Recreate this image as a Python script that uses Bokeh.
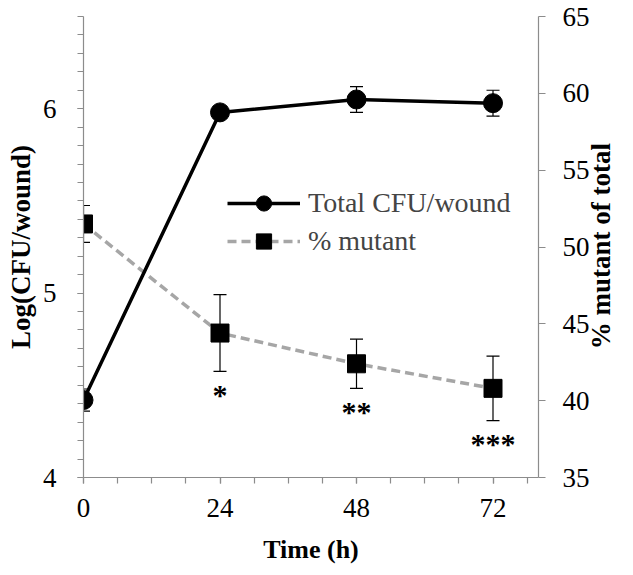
import math
from bokeh.plotting import figure
from bokeh.models import (Range1d, LinearAxis, FixedTicker, ColumnDataSource, Whisker,
                          TeeHead, Legend, LegendItem)
from bokeh.core.properties import value
from bokeh.embed import file_html
from bokeh.resources import INLINE

# ---- data ----
time_h = [0, 24, 48, 72]
total_cfu = [4.42, 5.98, 6.05, 6.03]
total_err = [0.06, 0.03, 0.07, 0.07]
pct_mutant = [51.5, 44.4, 42.4, 40.8]
pct_err = [1.2, 2.5, 1.6, 2.1]
sig_labels = ["", "*", "**", "***"]

x_major_ticks = [0, 24, 48, 72]
x_minor_ticks = [0, 6, 12, 18, 24, 30, 36, 42, 48, 54, 60, 66, 72, 78]
left_major_ticks = [4, 5, 6]
left_minor_ticks = [round(4 + 0.1 * i, 1) for i in range(26)]
right_ticks = [35, 40, 45, 50, 55, 60, 65]

FONT = "Liberation Serif"
AX = "#8c8c8c"
W, H = 633, 575
MB_L, MB_R, MB_T, MB_B = 83, 90, 16, 98

p = figure(width=W, height=H, output_backend="svg", toolbar_location=None,
           x_range=Range1d(0, 80), y_range=Range1d(4, 6.5),
           min_border_left=MB_L, min_border_right=MB_R,
           min_border_top=MB_T, min_border_bottom=MB_B)
p.extra_y_ranges = {"pct": Range1d(35, 65)}
p.grid.visible = False
p.outline_line_color = None
p.background_fill_color = "white"
p.border_fill_color = "white"

def style_axis(ax, size="27px"):
    ax.axis_line_color = AX
    ax.axis_line_width = 1.2
    ax.major_tick_line_color = AX
    ax.minor_tick_line_color = AX
    ax.major_tick_line_width = 1.2
    ax.minor_tick_line_width = 1.2
    ax.major_tick_in = 0
    ax.minor_tick_in = 0
    ax.major_label_text_font = FONT
    ax.major_label_text_font_size = size
    ax.major_label_text_color = "black"
    ax.axis_label_text_font = FONT
    ax.axis_label_text_font_style = "bold"
    ax.axis_label_text_color = "black"

xa = p.xaxis[0]
style_axis(xa)
xa.ticker = FixedTicker(ticks=x_major_ticks, minor_ticks=x_minor_ticks)
xa.major_tick_out = 6
xa.minor_tick_out = 6
xa.major_label_standoff = 15
xa.axis_label = "Time (h)"
xa.axis_label_text_font_size = "26px"
xa.axis_label_standoff = 15

ya = p.yaxis[0]
style_axis(ya)
ya.ticker = FixedTicker(ticks=left_major_ticks, minor_ticks=left_minor_ticks)
ya.major_tick_out = 6
ya.minor_tick_out = 6
ya.major_label_standoff = 21
ya.axis_label = "Log(CFU/wound)"
ya.axis_label_text_font_size = "27px"
ya.axis_label_standoff = 4

ra = LinearAxis(y_range_name="pct")
style_axis(ra)
ra.ticker = FixedTicker(ticks=right_ticks)
ra.minor_tick_out = 0
ra.major_tick_out = 7
ra.major_label_standoff = 17
ra.axis_label = "% mutant of total"
ra.axis_label_text_font_size = "27px"
ra.axis_label_standoff = 8
props = LinearAxis.properties()
if "axis_label_orientation" in props:
    ra.axis_label_orientation = math.pi / 2
    if "axis_label_align" in props:
        ra.axis_label_align = "start"
        ra.axis_label = "\u00a0" * 19 + "% mutant of total"
p.add_layout(ra, "right")

src = ColumnDataSource(dict(
    t=time_h, cfu=total_cfu,
    cfu_lo=[v - e for v, e in zip(total_cfu, total_err)],
    cfu_hi=[v + e for v, e in zip(total_cfu, total_err)],
    pct=pct_mutant,
    pct_lo=[v - e for v, e in zip(pct_mutant, pct_err)],
    pct_hi=[v + e for v, e in zip(pct_mutant, pct_err)],
))

for lo, hi, rng in (("cfu_lo", "cfu_hi", "default"), ("pct_lo", "pct_hi", "pct")):
    w = Whisker(source=src, base="t", lower=lo, upper=hi, y_range_name=rng,
                line_color="black", line_width=1.2, level="underlay",
                upper_head=TeeHead(size=13, line_color="black", line_width=1.2),
                lower_head=TeeHead(size=13, line_color="black", line_width=1.2))
    p.add_layout(w)

l_pct = p.line("t", "pct", source=src, y_range_name="pct", line_color="#a6a6a6",
               line_width=3.5, line_dash="9 5")
l_cfu = p.line("t", "cfu", source=src, line_color="black", line_width=3.5)
m_cfu = p.scatter("t", "cfu", source=src, marker="circle", size=19,
                  fill_color="black", line_color="black")
m_pct = p.scatter("t", "pct", source=src, y_range_name="pct", marker="square",
                  size=18, fill_color="black", line_color="black")

# significance asterisks below the error bars
sig_src = ColumnDataSource(dict(
    t=[t for t, s in zip(time_h, sig_labels) if s],
    y=[v - e - 1.45 for v, e, s in zip(pct_mutant, pct_err, sig_labels) if s],
    s=[s for s in sig_labels if s],
))
p.text("t", "y", text="s", source=sig_src, y_range_name="pct",
       text_font=value(FONT), text_font_style="bold", text_font_size="30px",
       text_align="center", text_baseline="middle", text_color="black", y_offset=1)

legend = Legend(items=[LegendItem(label="Total CFU/wound", renderers=[l_cfu, m_cfu]),
                       LegendItem(label="% mutant", renderers=[l_pct, m_pct])],
                location=(144, 217), padding=0, margin=0, spacing=0,
                glyph_width=73, glyph_height=38, label_height=38, label_standoff=8,
                label_text_font=FONT, label_text_font_size="28px",
                background_fill_alpha=0, border_line_alpha=0)
p.add_layout(legend)

open("out.html", "w").write(file_html(p, INLINE))
